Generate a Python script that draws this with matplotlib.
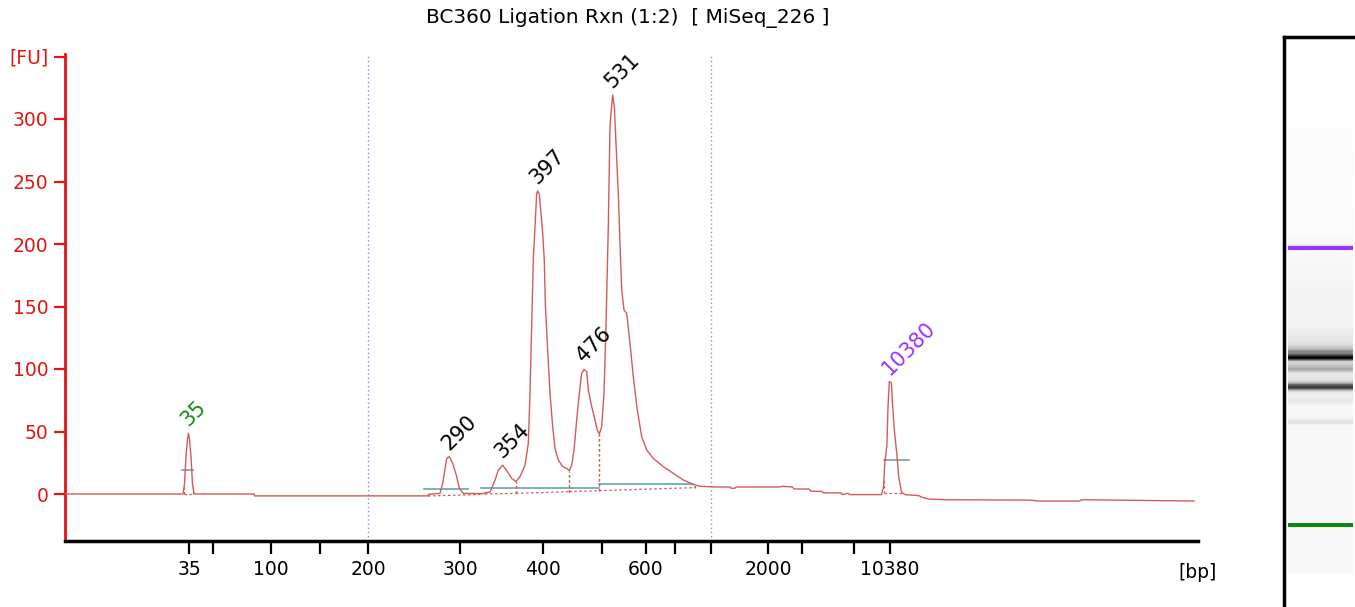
import numpy as np
import matplotlib
matplotlib.use("Agg")
import matplotlib.pyplot as plt

TITLE = "BC360 Ligation Rxn (1:2)  [ MiSeq_226 ]"

# ladder: size [bp] -> migration time [s]
ladder_bp = [35, 50, 100, 150, 200, 300, 400, 500, 600, 700, 1000, 2000, 3000, 7000, 10380]
ladder_time = [42.4, 44.8, 50.6, 55.5, 60.3, 69.5, 77.8, 83.7, 88.1, 91.0, 94.6, 100.3, 103.7, 108.9, 112.5]
labeled_bp = [35, 100, 200, 300, 400, 600, 2000, 10380]
region_bp = [200, 1000]

# electropherogram trace (time [s], fluorescence [FU])
trace_time = [
    30.0, 41.8, 41.95, 42.1, 42.25, 42.35, 42.45, 42.6, 42.75, 42.9, 43.0,
    48.9, 48.95, 66.3, 66.35, 67.5,
    67.77, 68.17, 68.43, 68.77, 69.17, 69.43, 69.83, 71.8,
    72.0, 72.5, 73.0, 73.33, 73.77, 74.17, 74.67, 75.1, 75.5, 76.0, 76.33,
    76.5, 76.67, 76.83, 77.0, 77.17, 77.27, 77.43, 77.57, 77.77, 77.93,
    78.03, 78.23, 78.5, 78.77, 79.0, 79.33, 79.77, 80.17, 80.43, 80.67,
    80.9, 81.17, 81.43, 81.67, 81.9, 82.17, 82.33, 82.67, 83.0, 83.23,
    83.43, 83.67, 83.9, 84.1, 84.33, 84.5, 84.63, 84.77, 84.93, 85.1,
    85.33, 85.5, 85.67, 85.9, 86.17, 86.5, 86.83, 87.23, 87.67, 88.17,
    88.83, 89.83, 90.83, 91.83, 92.83, 93.5, 95.0,
    96.5, 96.6, 97.0, 97.1, 101.5, 101.7, 102.75, 102.9, 104.4, 104.6,
    105.7, 105.85, 107.6, 107.75, 108.3, 108.45, 111.65,
    111.85, 111.98, 112.19, 112.3, 112.43, 112.64, 112.75, 112.95, 113.2,
    113.37, 113.65, 113.99, 115.38, 115.72, 116.41, 118.14,
    126.45, 127.3, 131.5, 131.6, 142.9,
]
trace_fu = [
    0.0, 0.0, 8.0, 30.0, 44.0, 48.5, 44.0, 30.0, 8.0, 0.5, 0.0,
    0.0, -1.5, -1.5, -0.2, 0.5,
    8.5, 28.5, 29.9, 24.5, 13.9, 4.5, 0.5, 0.3,
    1.0, 1.5, 11.0, 19.0, 23.0, 18.7, 12.5, 9.9, 13.9, 23.0, 40.5,
    80.5, 133.9, 187.0, 213.9, 240.5, 242.4, 240.0, 227.0, 208.5, 187.0,
    152.5, 120.5, 80.5, 53.9, 36.5, 27.2, 21.9, 20.5, 18.7, 23.0,
    35.2, 59.2, 80.5, 96.5, 99.7, 97.9, 83.2, 69.9, 59.2, 51.2,
    48.0, 53.9, 80.5, 133.9, 213.9, 293.9, 307.2, 319.2, 309.9, 280.5,
    240.5, 200.5, 163.2, 147.2, 144.5, 120.5, 93.9, 67.2, 45.8, 35.2,
    28.5, 21.9, 16.5, 11.2, 7.7, 6.2, 5.6,
    5.6, 4.6, 4.6, 5.6, 5.6, 6.2, 5.6, 4.0, 4.0, 2.3,
    2.0, 0.9, 0.9, -0.5, 0.6, -0.5, -0.5,
    5.6, 25.0, 38.8, 69.3, 90.0, 88.7, 72.0, 49.9, 30.5,
    13.9, 1.5, -0.5, -1.3, -2.7, -4.1, -4.6,
    -4.9, -5.6, -5.6, -4.6, -5.6,
]

# peak table: size, window start/end [s], baseline FU at start/end
peak_bp = [35, 290, 354, 397, 476, 531, 10380]
peak_start = [41.9, 66.3, 72.0, 75.1, 80.43, 83.43, 111.9]
peak_end = [42.8, 71.8, 75.1, 80.43, 83.43, 93.0, 113.8]
base_start = [0.0, -1.6, 0.0, 0.5, 1.9, 2.7, 0.6]
base_end = [0.0, -0.3, 0.5, 1.9, 2.7, 5.1, 0.6]
peak_color = ["#128a12", "black", "black", "black", "black", "black", "#9933ff"]

# smear / peak-width segments (start, end, FU)
seg_start = [41.73, 65.9, 71.57, 83.4, 111.9]
seg_end = [42.83, 70.33, 83.4, 92.83, 114.4]
seg_fu = [19.5, 4.3, 4.5, 7.7, 27.0]

RED = "#e41414"
TRACE = "#d45a5a"
TEAL = "#63a89c"
REGION = "#8c8cd0"

plt.rcParams["font.family"] = ["DejaVu Sans"]

fig = plt.figure(figsize=(13.55, 6.07), dpi=100)
ax = fig.add_axes([65 / 1355, 66 / 607, 1133 / 1355, 487 / 607])

t = np.array(trace_time)
fu = np.array(trace_fu)

for b in region_bp:
    ax.axvline(ladder_time[ladder_bp.index(b)], color=REGION, ls=(0, (1, 2)), lw=1)

ax.plot(t, fu, color=TRACE, lw=1, zorder=3)

for s, e, y in zip(seg_start, seg_end, seg_fu):
    ax.plot([s, e], [y, y], color=TEAL, lw=1.2, zorder=2)

for bp, s, e, bs, be, c in zip(peak_bp, peak_start, peak_end, base_start, base_end, peak_color):
    ax.plot([s, e], [bs, be], color=TRACE, lw=0.9, ls=(0, (2, 2)), zorder=2)
    for x, b in ((s, bs), (e, be)):
        ax.plot([x, x], [b, np.interp(x, t, fu)], color=TRACE, lw=0.9, ls=(0, (2, 2)), zorder=2)
    m = (t >= s) & (t <= e)
    i = np.argmax(np.where(m, fu, -np.inf))
    ax.annotate(str(bp), xy=(t[i], fu[i]), xytext=(0, 6), textcoords="offset pixels",
                rotation=45, rotation_mode="anchor", ha="left", va="baseline",
                fontsize=15, color=c)

ax.set_xlim(30, 143.3)
ax.set_ylim(-37.6, 352)

ax.set_xticks(ladder_time)
ax.set_xticklabels([str(b) if b in labeled_bp else "" for b in ladder_bp])
yt = [0, 50, 100, 150, 200, 250, 300, 350]
ax.set_yticks(yt)
ax.set_yticklabels([str(v) for v in yt[:-1]] + ["[FU]"])

for side in ("top", "right"):
    ax.spines[side].set_visible(False)
ax.spines["left"].set_color(RED)
ax.spines["left"].set_linewidth(2)
ax.spines["bottom"].set_linewidth(2.5)
ax.tick_params(axis="y", colors=RED, length=8, width=1.6, labelsize=13.5, pad=4)
ax.tick_params(axis="x", color="black", labelcolor="black", length=9, width=1.6,
               labelsize=13.5, pad=5)

ax.annotate("[bp]", xy=(1, 0), xycoords="axes fraction", xytext=(0, -31),
            textcoords="offset pixels", ha="center", va="center", fontsize=13.5)
ax.annotate(TITLE, xy=(0.5, 1), xycoords="axes fraction", xytext=(-4, 36),
            textcoords="offset pixels", ha="center", va="center", fontsize=14.5)

# gel-like lane built from the same trace
gax = fig.add_axes([1284 / 1355, 0, 100 / 1355, 570 / 607])
gray = np.clip(0.97 - fu / 330, 0, 1)
edges = np.concatenate([[t[0]], (t[:-1] + t[1:]) / 2, [t[-1]]])
gax.pcolormesh([0.04, 0.69], edges, gray[:, None], cmap="gray", vmin=0, vmax=1,
               shading="flat")
gax.axhspan(ladder_time[0] - 0.6, ladder_time[0] + 0.6, xmin=0.04, xmax=0.69,
            color="#0a8a0a", lw=0)
gax.axhspan(ladder_time[-1] - 0.6, ladder_time[-1] + 0.6, xmin=0.04, xmax=0.69,
            color="#9933ff", lw=0)
gax.set_xlim(0, 1)
gax.set_ylim(21.65, 165.9)
gax.set_xticks([])
gax.set_yticks([])
for side in ("bottom", "right"):
    gax.spines[side].set_visible(False)
for side in ("left", "top"):
    gax.spines[side].set_linewidth(2.5)

fig.savefig("out.png", dpi=100)
